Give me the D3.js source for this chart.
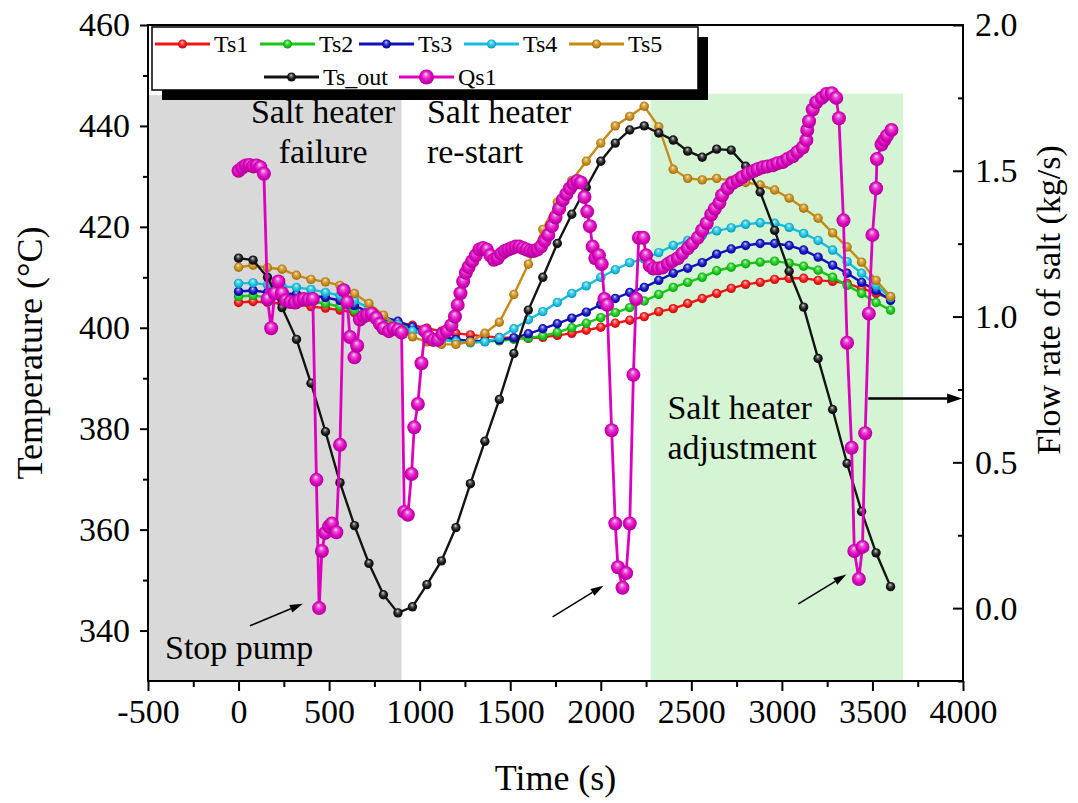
<!DOCTYPE html>
<html>
<head>
<meta charset="utf-8">
<script src="https://cdn.jsdelivr.net/npm/d3@7"></script>
<style>
  body { margin: 0; background: #fff; }
  svg text { font-family: "Liberation Serif", "Times New Roman", Times, serif; fill: #000; }
</style>
</head>
<body>
<svg id="chart" width="1078" height="803"></svg>
<script>
// ---------- data ----------
// sampling times of the salt temperature probes (s)
const timeTs = [0,80,160,240,320,400,480,560,640,720,800,880,960,1040,1120,1200,1280,1360,1440,1520,
  1600,1680,1760,1840,1920,2000,2080,2160,2240,2320,2400,2480,2560,2640,2720,2800,2880,2960,3040,3120,
  3200,3280,3360,3440,3520,3600];

// salt temperatures (°C)
const ts1 = [405.0,405.2,405.0,404.8,404.6,404.2,403.9,403.5,403.0,402.3,401.5,401.0,400.5,399.9,399.3,398.9,
  398.6,398.3,398.1,398.0,397.9,398.1,398.5,398.9,399.5,400.1,400.9,401.5,402.2,403.2,403.8,404.8,405.8,406.8,
  407.8,408.6,409.0,409.6,409.8,409.8,409.4,409.2,408.8,407.8,406.8,405.8];
const ts2 = [406.2,406.4,406.0,405.8,405.6,405.2,404.8,404.2,403.4,402.4,401.6,400.8,399.8,398.9,398.1,397.6,
  397.3,397.3,397.4,397.7,398.0,398.4,399.1,400.0,400.9,402.0,403.0,404.0,405.3,406.6,408.0,409.0,410.0,411.3,
  412.0,412.7,413.0,413.2,412.8,412.2,411.4,410.0,408.4,406.8,405.0,403.5];
const ts3 = [407.2,407.4,407.0,406.8,406.7,406.4,406.0,405.4,404.4,403.1,402.1,401.3,400.2,399.2,398.3,397.7,
  397.4,397.4,397.6,398.0,398.8,399.8,400.8,401.9,403.1,404.6,405.8,407.0,408.0,409.4,410.8,411.8,412.9,414.6,
  415.6,416.3,416.7,416.7,416.3,415.4,414.0,412.4,410.8,409.0,407.4,405.4];
const ts4 = [408.8,408.9,408.5,408.2,408.0,407.6,407.0,406.4,405.4,403.9,402.2,400.6,399.3,398.4,397.6,397.2,
  397.0,397.2,398.0,399.8,401.6,403.2,405.0,406.8,408.3,410.0,411.5,412.9,413.6,414.9,416.3,417.3,418.3,419.2,
  419.8,420.5,420.8,420.7,419.9,418.7,417.3,415.4,413.1,410.8,408.4,406.0];
const ts5 = [412.0,412.4,411.9,411.6,410.4,409.6,409.1,408.4,406.8,404.8,402.5,400.1,398.2,397.2,396.7,396.7,
  397.2,398.9,401.1,406.6,412.6,419.5,424.9,429.2,433.0,436.6,440.0,441.9,443.9,439.8,431.4,429.6,429.3,429.6,
  429.2,428.8,428.3,427.3,425.7,423.7,421.7,418.8,416.0,413.0,409.4,406.2];
const tsOut = [413.8,413.4,410.0,404.0,397.7,389.0,379.4,369.3,360.8,353.3,347.1,343.5,344.7,349.1,353.8,360.4,
  369.1,377.5,385.8,394.9,403.5,410.0,416.7,422.5,427.8,433.0,436.6,439.2,440.0,438.6,437.2,435.0,433.8,435.4,
  435.2,432.0,426.9,419.3,411.2,404.1,393.9,383.8,373.1,363.6,355.4,348.7];

// salt flow rate samples (s, kg/s)
const qsTime = [0,20,40,60,80,100,120,140,
  160,180,200,220,240,260,285,310,335,360,385,410,
  430,445,460,478,500,515,540,560,580,600,615,640,655,670,690,710,735,760,780,800,830,855,880,900,
  915,935,955,970,990,1010,1030,1050,1075,1100,1125,1150,1175,1195,1210,1225,1240,1255,1270,1290,
  1310,1330,1350,1370,1390,1410,1430,1450,1470,1490,1510,1530,1550,1570,1590,1610,1630,1650,1670,1690,
  1710,1730,1750,1770,1790,1810,1830,1850,1870,1890,1910,1925,1940,1955,1970,1990,2005,2020,2035,2060,
  2080,2095,2120,2140,2160,2180,2195,2210,2235,2250,2270,2290,
  2315,2340,2370,2395,2425,2450,2480,2505,2535,2560,2585,2610,2630,2655,2670,2700,2725,2755,2780,2810,
  2840,2865,2895,2920,2950,2975,3005,3030,3060,3085,3115,3135,3140,3150,3170,3190,3220,3245,3275,3300,
  3315,3340,3360,3385,3400,3425,3445,3460,3480,3500,3520,3525,3550,3565,3580,3605];
const qs1 = [1.500,1.510,1.518,1.520,1.515,1.518,1.512,1.490,
  1.060,0.960,1.080,1.120,1.080,1.055,1.050,1.048,1.055,1.060,1.058,1.060,
  0.440,0.000,0.196,0.258,0.280,0.290,0.260,0.560,1.090,1.050,0.930,0.860,0.900,0.990,1.000,1.005,1.010,0.995,0.975,0.960,0.950,0.960,0.955,0.945,
  0.330,0.320,0.460,0.620,0.700,0.840,0.950,0.930,0.920,0.920,0.940,0.950,0.970,1.000,1.040,1.080,1.120,1.150,1.170,1.190,
  1.210,1.230,1.235,1.230,1.210,1.195,1.200,1.215,1.225,1.230,1.235,1.240,1.240,1.235,1.230,1.225,1.225,1.230,1.240,1.260,
  1.280,1.310,1.340,1.370,1.400,1.420,1.440,1.455,1.465,1.460,1.410,1.360,1.310,1.240,1.200,1.210,1.180,1.060,1.040,0.610,
  0.290,0.140,0.070,0.120,0.290,0.800,1.060,1.270,1.270,1.210,1.175,1.165,
  1.165,1.168,1.180,1.190,1.200,1.216,1.234,1.250,1.270,1.296,1.320,1.350,1.370,1.390,1.416,1.440,1.457,1.467,1.478,1.490,
  1.498,1.505,1.512,1.515,1.519,1.526,1.530,1.540,1.550,1.564,1.580,1.605,1.640,1.670,1.710,1.735,1.750,1.763,1.766,1.750,
  1.680,1.330,0.910,0.550,0.196,0.100,0.210,0.600,1.010,1.280,1.440,1.540,1.590,1.605,1.620,1.640];

const seriesNames = ["Ts1", "Ts2", "Ts3", "Ts4", "Ts5", "Ts_out", "Qs1"];

// axis ticks
const timeTicks = [-500, 0, 500, 1000, 1500, 2000, 2500, 3000, 3500, 4000];
const tempTicks = [340, 360, 380, 400, 420, 440, 460];
const flowTicks = [0.0, 0.5, 1.0, 1.5, 2.0];

// operating phases (start s, end s, upper temperature °C)
const failureSpan = [-500, 900, 446.1];
const adjustSpan = [2275, 3670, 446.4];

// ---------- styles ----------
const colors = {
  Ts1: "#f01414", Ts2: "#14c814", Ts3: "#1010c0", Ts4: "#14bee0",
  Ts5: "#c88a14", Ts_out: "#141414", Qs1: "#dc00be"
};
const FONT = '"Liberation Serif", "Times New Roman", Times, serif';

// ---------- layout ----------
const svg = d3.select("#chart");
const W = 1078, H = 803;
const plot = { left: 148, right: 963, top: 25, bottom: 681 };

const x = d3.scaleLinear().domain([-500, 4000]).range([plot.left, plot.right]);
const yL = d3.scaleLinear().domain([330, 460]).range([plot.bottom, plot.top]);
const yR = d3.scaleLinear().domain([-0.25, 2.0]).range([plot.bottom, plot.top]);

svg.append("rect").attr("width", W).attr("height", H).attr("fill", "#fff");

// sphere-like marker fills
const defs = svg.append("defs");
seriesNames.forEach(name => {
  const base = colors[name];
  const g = defs.append("radialGradient").attr("id", "ball-" + name)
    .attr("cx", "50%").attr("cy", "50%").attr("r", "55%")
    .attr("fx", "45%").attr("fy", "28%");
  g.append("stop").attr("offset", "0%").attr("stop-color", d3.interpolateRgb(base, "#ffffff")(0.85));
  g.append("stop").attr("offset", "30%").attr("stop-color", d3.interpolateRgb(base, "#ffffff")(0.3));
  g.append("stop").attr("offset", "65%").attr("stop-color", base);
  g.append("stop").attr("offset", "100%").attr("stop-color", d3.color(base).darker(0.9));
});

// ---------- phase shading ----------
svg.append("rect")
  .attr("x", x(failureSpan[0])).attr("width", x(failureSpan[1]) - x(failureSpan[0]))
  .attr("y", yL(failureSpan[2])).attr("height", plot.bottom - yL(failureSpan[2]))
  .attr("fill", "#d9d9d9");
svg.append("rect")
  .attr("x", x(adjustSpan[0])).attr("width", x(adjustSpan[1]) - x(adjustSpan[0]))
  .attr("y", yL(adjustSpan[2])).attr("height", plot.bottom - yL(adjustSpan[2]))
  .attr("fill", "#d4f4d4");

// ---------- series ----------
const tempSeries = [
  { name: "Ts1", values: ts1 }, { name: "Ts2", values: ts2 }, { name: "Ts3", values: ts3 },
  { name: "Ts4", values: ts4 }, { name: "Ts5", values: ts5 }, { name: "Ts_out", values: tsOut }
];

const lineL = d3.line().x(d => x(d.t)).y(d => yL(d.v));
const lineR = d3.line().x(d => x(d.t)).y(d => yR(d.v));

tempSeries.forEach(s => {
  const pts = timeTs.map((t, i) => ({ t, v: s.values[i] }));
  const g = svg.append("g").attr("class", "series-" + s.name);
  g.append("path").datum(pts).attr("d", lineL)
    .attr("fill", "none").attr("stroke", colors[s.name]).attr("stroke-width", 2.4);
  g.selectAll("circle").data(pts).join("circle")
    .attr("cx", d => x(d.t)).attr("cy", d => yL(d.v)).attr("r", 4.7)
    .attr("fill", `url(#ball-${s.name})`);
});

const flowPts = qsTime.map((t, i) => ({ t, v: qs1[i] }));
const gq = svg.append("g").attr("class", "series-Qs1");
gq.append("path").datum(flowPts).attr("d", lineR)
  .attr("fill", "none").attr("stroke", colors.Qs1).attr("stroke-width", 2.8);
gq.selectAll("circle").data(flowPts).join("circle")
  .attr("cx", d => x(d.t)).attr("cy", d => yR(d.v)).attr("r", 7)
  .attr("fill", "url(#ball-Qs1)");

// ---------- annotations ----------
function note(lines, t, temp, anchor) {
  const tx = svg.append("text").attr("x", x(t)).attr("y", yL(temp))
    .attr("text-anchor", anchor).attr("font-size", 34);
  lines.forEach((ln, i) => tx.append("tspan").attr("x", x(t)).attr("dy", i === 0 ? 0 : 40).text(ln));
}
note(["Salt heater", "failure"], 467, 440.6, "middle");
note(["Salt heater", "re-start"], 1040, 440.6, "start");
note(["Salt heater", "adjustment"], 2368, 382.0, "start");
note(["Stop pump"], -406, 334.4, "start");

function arrow(t0, v0, t1, v1, width, head, headW) {
  const x0 = x(t0), y0 = yL(v0), x1 = x(t1), y1 = yL(v1);
  const ang = Math.atan2(y1 - y0, x1 - x0);
  const bx = x1 - head * Math.cos(ang), by = y1 - head * Math.sin(ang);
  svg.append("line").attr("x1", x0).attr("y1", y0).attr("x2", bx).attr("y2", by)
    .attr("stroke", "#000").attr("stroke-width", width);
  const px = -Math.sin(ang) * headW / 2, py = Math.cos(ang) * headW / 2;
  svg.append("path")
    .attr("d", `M${x1},${y1}L${bx + px},${by + py}L${bx - px},${by - py}Z`)
    .attr("fill", "#000");
}
arrow(63, 340.95, 355, 345.3, 1.5, 13, 8);
arrow(1734, 342.7, 2015, 348.9, 1.5, 13, 8);
arrow(3091, 345.3, 3356, 351.1, 1.5, 13, 8);
arrow(3477, 386.0, 3995, 386.0, 2.5, 15, 10);

// ---------- axes ----------
const minorTemp = d3.range(350, 460, 20);
const minorTime = d3.range(-250, 4000, 500);
const minorFlow = [-0.25, 0.25, 0.75, 1.25, 1.75];

function styleAxis(g) {
  g.selectAll("path.domain").remove();
  g.selectAll("line").attr("stroke", "#000").attr("stroke-width", 2);
  g.selectAll("text").attr("font-family", FONT).attr("font-size", 34).attr("fill", "#000");
}

svg.append("g").attr("transform", `translate(${plot.left},0)`)
  .call(d3.axisLeft(yL).tickValues(tempTicks).tickSize(8).tickPadding(10).tickFormat(d3.format("d")))
  .call(styleAxis);
svg.append("g").attr("transform", `translate(${plot.left},0)`)
  .call(d3.axisLeft(yL).tickValues(minorTemp).tickSize(5).tickFormat(""))
  .call(styleAxis);

svg.append("g").attr("transform", `translate(0,${plot.bottom})`)
  .call(d3.axisBottom(x).tickValues(timeTicks).tickSize(10).tickPadding(8).tickFormat(d3.format("d")))
  .call(styleAxis)
  .call(g => g.selectAll("text").text(d => d < 0 ? "-" + Math.abs(d) : d));
svg.append("g").attr("transform", `translate(0,${plot.bottom})`)
  .call(d3.axisBottom(x).tickValues(minorTime).tickSize(6).tickFormat(""))
  .call(styleAxis);

svg.append("g").attr("transform", `translate(${plot.right},0)`)
  .call(d3.axisRight(yR).tickValues(flowTicks).tickSize(-10).tickPadding(12).tickFormat(d3.format(".1f")))
  .call(styleAxis);
svg.append("g").attr("transform", `translate(${plot.right},0)`)
  .call(d3.axisRight(yR).tickValues(minorFlow).tickSize(-5).tickFormat(""))
  .call(styleAxis);

// frame
svg.append("rect")
  .attr("x", plot.left).attr("y", plot.top)
  .attr("width", plot.right - plot.left).attr("height", plot.bottom - plot.top)
  .attr("fill", "none").attr("stroke", "#000").attr("stroke-width", 2);

// axis titles
svg.append("text").attr("transform", `translate(${(plot.left + plot.right) / 2},790)`)
  .attr("text-anchor", "middle").attr("font-size", 36).text("Time (s)");
svg.append("text").attr("transform", `translate(42,${(plot.top + plot.bottom) / 2}) rotate(-90)`)
  .attr("text-anchor", "middle").attr("font-size", 36).text("Temperature (°C)");
svg.append("text").attr("transform", `translate(1060,300) rotate(-90)`)
  .attr("text-anchor", "middle").attr("font-size", 34).text("Flow rate of salt (kg/s)");

// ---------- legend ----------
const legend = svg.append("g").attr("class", "legend");
const box = { x: 152, y: 27, w: 546, h: 63 };
legend.append("rect").attr("x", box.x + 10).attr("y", box.y + 10)
  .attr("width", box.w).attr("height", box.h).attr("fill", "#000");
legend.append("rect").attr("x", box.x).attr("y", box.y)
  .attr("width", box.w).attr("height", box.h)
  .attr("fill", "#fff").attr("stroke", "#000").attr("stroke-width", 1.5);

const legendItems = [
  { name: "Ts1", lx: 155, row: 0 }, { name: "Ts2", lx: 260, row: 0 }, { name: "Ts3", lx: 359, row: 0 },
  { name: "Ts4", lx: 464, row: 0 }, { name: "Ts5", lx: 569, row: 0 },
  { name: "Ts_out", lx: 264, row: 1 }, { name: "Qs1", lx: 399, row: 1 }
];
const rowY = [44, 77];
legendItems.forEach(it => {
  const cy = rowY[it.row];
  legend.append("line").attr("x1", it.lx).attr("x2", it.lx + 55).attr("y1", cy).attr("y2", cy)
    .attr("stroke", colors[it.name]).attr("stroke-width", 3);
  legend.append("circle").attr("cx", it.lx + 27.5).attr("cy", cy)
    .attr("r", it.name === "Qs1" ? 7.5 : 4.5).attr("fill", `url(#ball-${it.name})`);
  legend.append("text").attr("x", it.lx + 59).attr("y", cy + 8)
    .attr("font-size", 24).text(it.name);
});
</script>
</body>
</html>
